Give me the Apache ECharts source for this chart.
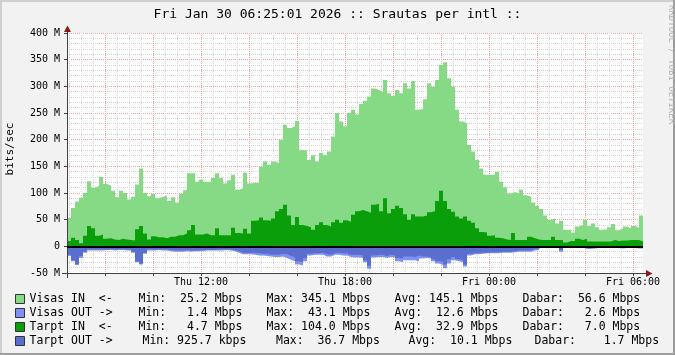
<!DOCTYPE html>
<html>
<head>
<meta charset="utf-8">
<script src="https://cdn.jsdelivr.net/npm/echarts@6/dist/echarts.min.js"></script>
<style>
  html, body { margin: 0; padding: 0; background: #f2f2f2; }
  #chart { width: 675px; height: 355px; }
</style>
</head>
<body>
<div id="chart"></div>
<script>
// first sample Thu 06:25 (minutes since Thu 00:00), one sample every 10 min, Mbit/s
const startMin = 385
const stepMin = 10

const visasIn = [
  53, 72, 84, 91, 100, 122, 110, 113, 130, 117, 114, 104,
  92, 104, 100, 88, 93, 116, 146, 100, 94, 98, 90, 93,
  95, 85, 92, 82, 98, 105, 137, 137, 121, 125, 121, 121,
  128, 137, 128, 118, 124, 134, 106, 109, 138, 118, 119, 119,
  149, 159, 153, 159, 156, 200, 228, 222, 225, 235, 180, 180,
  162, 171, 159, 175, 171, 178, 206, 250, 234, 225, 250, 256,
  247, 267, 273, 281, 296, 293, 290, 312, 287, 282, 293, 287,
  306, 296, 310, 256, 258, 276, 306, 299, 312, 340, 345, 315,
  299, 256, 234, 231, 190, 178, 162, 146, 134, 134, 134, 140,
  121, 111, 99, 102, 99, 106, 96, 93, 82, 76, 70, 58,
  50, 52, 43, 48, 31, 31, 26, 37, 40, 50, 38, 43,
  36, 31, 32, 36, 42, 30, 33, 37, 34, 38, 35, 58
]
const tarptIn = [
  10, 16, 12, 6, 20, 38, 34, 20, 22, 14, 15, 13,
  12, 14, 13, 12, 11, 32, 38, 24, 13, 19, 17, 17,
  15, 18, 18, 21, 21, 24, 30, 40, 22, 22, 24, 21,
  21, 34, 21, 21, 21, 35, 25, 24, 33, 24, 48, 49,
  54, 49, 48, 52, 66, 70, 78, 58, 40, 55, 40, 38,
  36, 31, 40, 45, 40, 37, 45, 50, 44, 49, 46, 59,
  66, 68, 66, 63, 78, 80, 66, 90, 62, 70, 76, 72,
  60, 50, 60, 56, 56, 58, 64, 66, 85, 104, 85, 70,
  65, 56, 52, 56, 48, 44, 34, 27, 26, 20, 21, 16,
  15, 13, 12, 25, 12, 12, 12, 18, 15, 13, 12, 12,
  12, 18, 12, 12, 7, 10, 10, 14, 12, 14, 9, 9,
  9, 9, 9, 9, 12, 10, 11, 11, 12, 12, 12, 9
]
const visasOut = [
  18, 28, 35, 22, 12, 8, 8, 8, 8, 7, 7, 8,
  7, 7, 8, 8, 12, 30, 34, 14, 8, 8, 7, 8,
  8, 9, 10, 10, 10, 9, 10, 9, 9, 9, 8, 8,
  8, 8, 8, 7, 8, 9, 12, 15, 15, 15, 16, 17,
  17, 18, 19, 20, 20, 19, 22, 25, 28, 34, 36, 28,
  17, 16, 16, 16, 19, 19, 16, 16, 17, 17, 20, 21,
  21, 22, 30, 42, 21, 20, 20, 22, 20, 21, 28, 30,
  26, 26, 26, 28, 23, 22, 23, 28, 32, 35, 41, 32,
  26, 28, 30, 38, 17, 15, 15, 14, 13, 13, 13, 13,
  12, 12, 12, 11, 10, 10, 10, 10, 8, 7, 3, 3,
  3, 3, 3, 10, 3, 2, 2, 2, 2, 5, 5, 4,
  3, 3, 3, 3, 3, 3, 4, 3, 3, 3, 4, 4
]
const tarptOut = [
  16, 26, 33, 18, 10, 6, 6, 6, 6, 6, 5, 6,
  6, 5, 6, 6, 10, 28, 32, 12, 6, 6, 6, 6,
  6, 7, 8, 8, 8, 7, 8, 8, 8, 7, 7, 7,
  7, 6, 6, 6, 6, 7, 9, 12, 12, 12, 12, 13,
  14, 14, 16, 16, 16, 14, 15, 18, 20, 28, 30, 22,
  14, 13, 13, 12, 15, 16, 13, 12, 13, 13, 16, 16,
  16, 17, 26, 36, 17, 16, 16, 18, 16, 17, 22, 23,
  19, 19, 20, 17, 19, 19, 20, 24, 28, 29, 34, 24,
  20, 24, 26, 34, 14, 13, 13, 12, 12, 11, 11, 11,
  10, 10, 10, 9, 8, 8, 8, 8, 5, 4, 2, 2,
  2, 2, 2, 7, 2, 1, 2, 2, 2, 3, 3, 3,
  2, 2, 2, 2, 2, 2, 3, 2, 2, 2, 2, 2
]

const tickTimes = [720, 1080, 1440, 1800]
const tickLabels = ['Thu 12:00', 'Thu 18:00', 'Fri 00:00', 'Fri 06:00']

const seriesNames = ['Visas IN', 'Visas OUT', 'Tarpt IN', 'Tarpt OUT']
const legendCells = [
  ['Visas IN  <-', 'Min:  25.2 Mbps', 'Max: 345.1 Mbps', 'Avg: 145.1 Mbps', 'Dabar:  56.6 Mbps'],
  ['Visas OUT ->', 'Min:   1.4 Mbps', 'Max:  43.1 Mbps', 'Avg:  12.6 Mbps', 'Dabar:   2.6 Mbps'],
  ['Tarpt IN  <-', 'Min:   4.7 Mbps', 'Max: 104.0 Mbps', 'Avg:  32.9 Mbps', 'Dabar:   7.0 Mbps'],
  ['Tarpt OUT ->', 'Min: 925.7 kbps', 'Max:  36.7 Mbps', 'Avg:  10.1 Mbps', 'Dabar:    1.7 Mbps']
]

// legend column starts (px), rrdtool tab stops
const colX = [
  [29, 138, 266, 394, 522],
  [29, 138, 266, 394, 522],
  [29, 138, 266, 394, 522],
  [29, 142, 275.5, 408, 534]
]

const FONT = '"DejaVu Sans Mono", monospace'
const endMin = startMin + visasIn.length * stepMin

const minorTimes = []
for (let t = 390; t < endMin; t += 30) minorTimes.push(t)
const majorTimes = []
for (let t = 480; t < endMin; t += 120) majorTimes.push(t)

// step points, last value held to the end of its interval
function toPoints(values, sign) {
  const pts = values.map((v, i) => [startMin + i * stepMin, sign * v])
  pts.push([endMin, sign * values[values.length - 1]])
  return pts
}

function areaSeries(name, values, sign, color) {
  return {
    name: name,
    type: 'line',
    step: 'end',
    data: toPoints(values, sign),
    color: color,
    showSymbol: false,
    silent: true,
    lineStyle: { width: 0 },
    areaStyle: { color: color, opacity: 1 }
  }
}

const rich = {}
legendCells.forEach((row, r) => {
  row.forEach((cell, k) => {
    const st = { fontFamily: FONT, fontSize: 11.5, lineHeight: 14, color: '#000' }
    if (k < row.length - 1) st.width = colX[r][k + 1] - colX[r][k]
    rich['c' + r + k] = st
  })
})

const gridGray = '#d6d6d6'
const gridRed = '#eea2a2'
const axisColor = '#404040'
const arrowColor = '#8b1a1a'

const series = [
  areaSeries('Visas IN', visasIn, 1, '#86da86'),
  areaSeries('Tarpt IN', tarptIn, 1, '#0a9f0a'),
  areaSeries('Visas OUT', visasOut, -1, '#7f91f7'),
  areaSeries('Tarpt OUT', tarptOut, -1, '#5a6ecd')
]
series[3].markLine = {
  silent: true,
  symbol: 'none',
  z: 10,
  label: { show: false },
  lineStyle: { color: '#000', width: 2, type: 'solid' },
  data: [{ yAxis: 0 }]
}

const chart = echarts.init(document.getElementById('chart'))
chart.setOption({
  animation: false,
  backgroundColor: '#f2f2f2',
  title: {
    text: 'Fri Jan 30 06:25:01 2026 :: Srautas per intl ::',
    left: 'center',
    top: 8,
    padding: 0,
    textStyle: { fontFamily: FONT, fontSize: 13, fontWeight: 'normal', color: '#000' }
  },
  grid: { left: 67, top: 33, width: 576, height: 240, show: true, backgroundColor: '#fff', borderWidth: 0 },
  legend: {
    data: seriesNames,
    orient: 'vertical',
    left: 15,
    top: 292,
    padding: 0,
    itemGap: 0,
    itemWidth: 9,
    itemHeight: 9,
    icon: 'rect',
    selectedMode: false,
    itemStyle: { borderColor: '#333', borderWidth: 1 },
    textStyle: { fontFamily: FONT, fontSize: 11.5, lineHeight: 14, rich: rich },
    formatter: function (name) {
      const r = seriesNames.indexOf(name)
      return legendCells[r].map((cell, k) => '{c' + r + k + '|' + cell + '}').join('')
    }
  },
  xAxis: [
    {
      type: 'value',
      min: startMin,
      max: endMin,
      axisLine: { show: false },
      axisTick: { show: false, customValues: minorTimes },
      axisLabel: { show: false },
      splitLine: { show: true, lineStyle: { color: gridGray, type: [1, 1], width: 1 } }
    },
    {
      type: 'value',
      min: startMin,
      max: endMin,
      position: 'bottom',
      axisLine: { show: false },
      axisTick: { show: true, length: 3, customValues: majorTimes, lineStyle: { color: axisColor } },
      axisLabel: {
        show: true,
        customValues: tickTimes,
        margin: 4,
        fontFamily: FONT,
        fontSize: 10,
        color: '#000',
        formatter: v => tickLabels[tickTimes.indexOf(v)]
      },
      splitLine: { show: true, lineStyle: { color: gridRed, type: [1, 1], width: 1 } }
    }
  ],
  yAxis: {
    type: 'value',
    min: -50,
    max: 400,
    interval: 50,
    axisLine: { show: false },
    axisTick: { show: true, length: 3, lineStyle: { color: axisColor } },
    axisLabel: {
      margin: 7,
      fontFamily: FONT,
      fontSize: 10,
      color: '#000',
      formatter: v => (v === 0 ? '0' : v + ' M')
    },
    splitLine: { show: true, lineStyle: { color: gridRed, type: [1, 1], width: 1 } },
    minorTick: { show: false, splitNumber: 5 },
    minorSplitLine: { show: true, lineStyle: { color: gridGray, type: [1, 1], width: 1 } }
  },
  series: series,
  graphic: [
    { type: 'rect', shape: { x: 0, y: 0, width: 675, height: 2 }, style: { fill: '#cfcfcf' }, silent: true },
    { type: 'rect', shape: { x: 0, y: 0, width: 2, height: 355 }, style: { fill: '#cfcfcf' }, silent: true },
    { type: 'rect', shape: { x: 0, y: 353, width: 675, height: 2 }, style: { fill: '#9e9e9e' }, silent: true },
    { type: 'rect', shape: { x: 673, y: 0, width: 2, height: 355 }, style: { fill: '#9e9e9e' }, silent: true },
    { type: 'line', shape: { x1: 62, y1: 273.5, x2: 647, y2: 273.5 }, style: { stroke: axisColor, lineWidth: 1 }, silent: true, z: 10 },
    { type: 'line', shape: { x1: 67.5, y1: 31, x2: 67.5, y2: 278 }, style: { stroke: axisColor, lineWidth: 1 }, silent: true, z: 10 },
    { type: 'polygon', shape: { points: [[64, 32], [71, 32], [67.5, 25.5]] }, style: { fill: arrowColor }, silent: true, z: 10 },
    { type: 'polygon', shape: { points: [[646, 270], [646, 277], [652.5, 273.5]] }, style: { fill: arrowColor }, silent: true, z: 10 },
    {
      type: 'text', x: 10.5, y: 149, rotation: Math.PI / 2, silent: true,
      style: { text: 'bits/sec', font: '11px ' + FONT, fill: '#000', align: 'center', verticalAlign: 'middle' }
    },
    {
      type: 'text', x: 671, y: 5, rotation: -Math.PI / 2, silent: true,
      style: { text: 'RRDTOOL / TOBI OETIKER', font: '9px ' + FONT, fill: '#b4b4b4', align: 'left', verticalAlign: 'middle' }
    }
  ]
})
</script>
</body>
</html>
